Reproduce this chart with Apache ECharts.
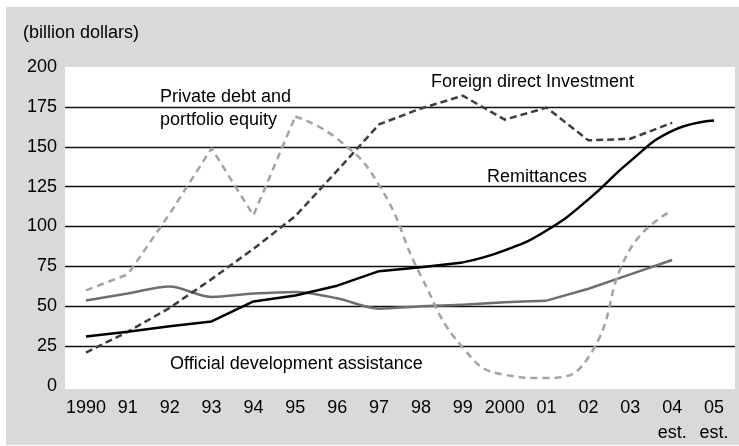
<!DOCTYPE html>
<html>
<head>
<meta charset="utf-8">
<script src="https://cdn.jsdelivr.net/npm/echarts@6/dist/echarts.min.js"></script>
<style>
html,body{margin:0;padding:0;background:#fff;}
#gray{position:absolute;left:6px;top:7px;width:733px;height:438px;background:#d9d9d9;}
#white{position:absolute;left:65px;top:67px;width:670px;height:322px;background:#fff;}
#chart{position:absolute;left:0;top:0;width:739px;height:446px;}
</style>
</head>
<body>
<div id="gray"></div>
<div id="white"></div>
<div id="chart"></div>
<script>
// Categories (years) and tick labels
const years = ['1990','91','92','93','94','95','96','97','98','99','2000','01','02','03','04\nest.','05\nest.'];
const yTicks = [0, 25, 50, 75, 100, 125, 150, 175, 200];

// Series values (billion dollars)
const foreignDirectInvestment = [21, 34, 49, 67, 86, 106.5, 135, 164, 174, 182, 167, 174.5, 154, 155, 165, '-'];
const privateDebtEquity       = [60, 70, 108, 149, 107, 169, 155, 126, 69, 24, 7, 5, 18, 86, 110, '-'];
const remittances             = [31, 34, 37.4, 40.5, 53, 56.7, 62.9, 72, 74.5, 77.5, 85, 97.5, 117, 141, 160, 166.5];
const officialDevAssistance   = [53.6, 58, 62.4, 55.8, 58, 59, 55, 48.5, 50, 51, 52.5, 53.5, 61, 70, 79, '-'];

function part(arr, from, to) {
  return arr.map((v, i) => (i >= from && i <= to) ? v : '-');
}

const FONT = '"Liberation Sans", Arial, Helvetica, sans-serif';
const FS = 18;

const chart = echarts.init(document.getElementById('chart'), null, {renderer: 'canvas'});

function lineSeries(name, data, color, type, smooth, z) {
  return {
    name: name, type: 'line', data: data, smooth: smooth,
    showSymbol: false, symbol: 'none', z: z,
    lineStyle: {color: color, width: 2.5, type: type, cap: 'butt', join: 'round'},
    emphasis: {disabled: true}, animation: false
  };
}

function label(text, x, y) {
  return {type: 'text', x: x, y: y, style: {text: text, font: FS + 'px ' + FONT, fill: '#000',
    textAlign: 'left', textVerticalAlign: 'middle', align: 'left', verticalAlign: 'middle'}};
}

chart.setOption({
  backgroundColor: 'transparent',
  animation: false,
  grid: {left: 65, right: 4, top: 67, bottom: 60, containLabel: false},
  xAxis: {
    type: 'category', data: years, boundaryGap: true,
    axisLine: {show: false}, axisTick: {show: false},
    axisLabel: {interval: 0, margin: 9.5, color: '#000', fontSize: FS, fontFamily: FONT, lineHeight: 25}
  },
  yAxis: {
    type: 'value', min: yTicks[0], max: yTicks[yTicks.length - 1], interval: 25,
    axisLine: {show: false}, axisTick: {show: false},
    axisLabel: {margin: 8, color: '#000', fontSize: FS, fontFamily: FONT},
    splitLine: {show: true, showMinLine: false, showMaxLine: false, lineStyle: {color: '#111', width: 1.3}}
  },
  series: [
    lineSeries('Official development assistance a', part(officialDevAssistance, 0, 11), '#6e6e6e', 'solid', 0.3, 3),
    lineSeries('Official development assistance b', part(officialDevAssistance, 11, 14), '#6e6e6e', 'solid', false, 3),
    lineSeries('Private debt and portfolio equity a', part(privateDebtEquity, 0, 5), '#a3a3a3', [7, 5], false, 4),
    lineSeries('Private debt and portfolio equity b', part(privateDebtEquity, 5, 14), '#a3a3a3', [7, 5], 0.5, 4),
    lineSeries('Foreign direct Investment', foreignDirectInvestment, '#3d3d3d', [7, 4], false, 5),
    lineSeries('Remittances a', part(remittances, 0, 9), '#000', 'solid', false, 6),
    lineSeries('Remittances b', part(remittances, 9, 15), '#000', 'solid', 0.5, 6)
  ],
  graphic: [
    label('(billion dollars)', 23, 33),
    label('Private debt and', 160, 97),
    label('portfolio equity', 160, 120),
    label('Foreign direct Investment', 431, 82),
    label('Remittances', 487, 177),
    label('Official development assistance', 170, 364)
  ]
});
</script>
</body>
</html>
